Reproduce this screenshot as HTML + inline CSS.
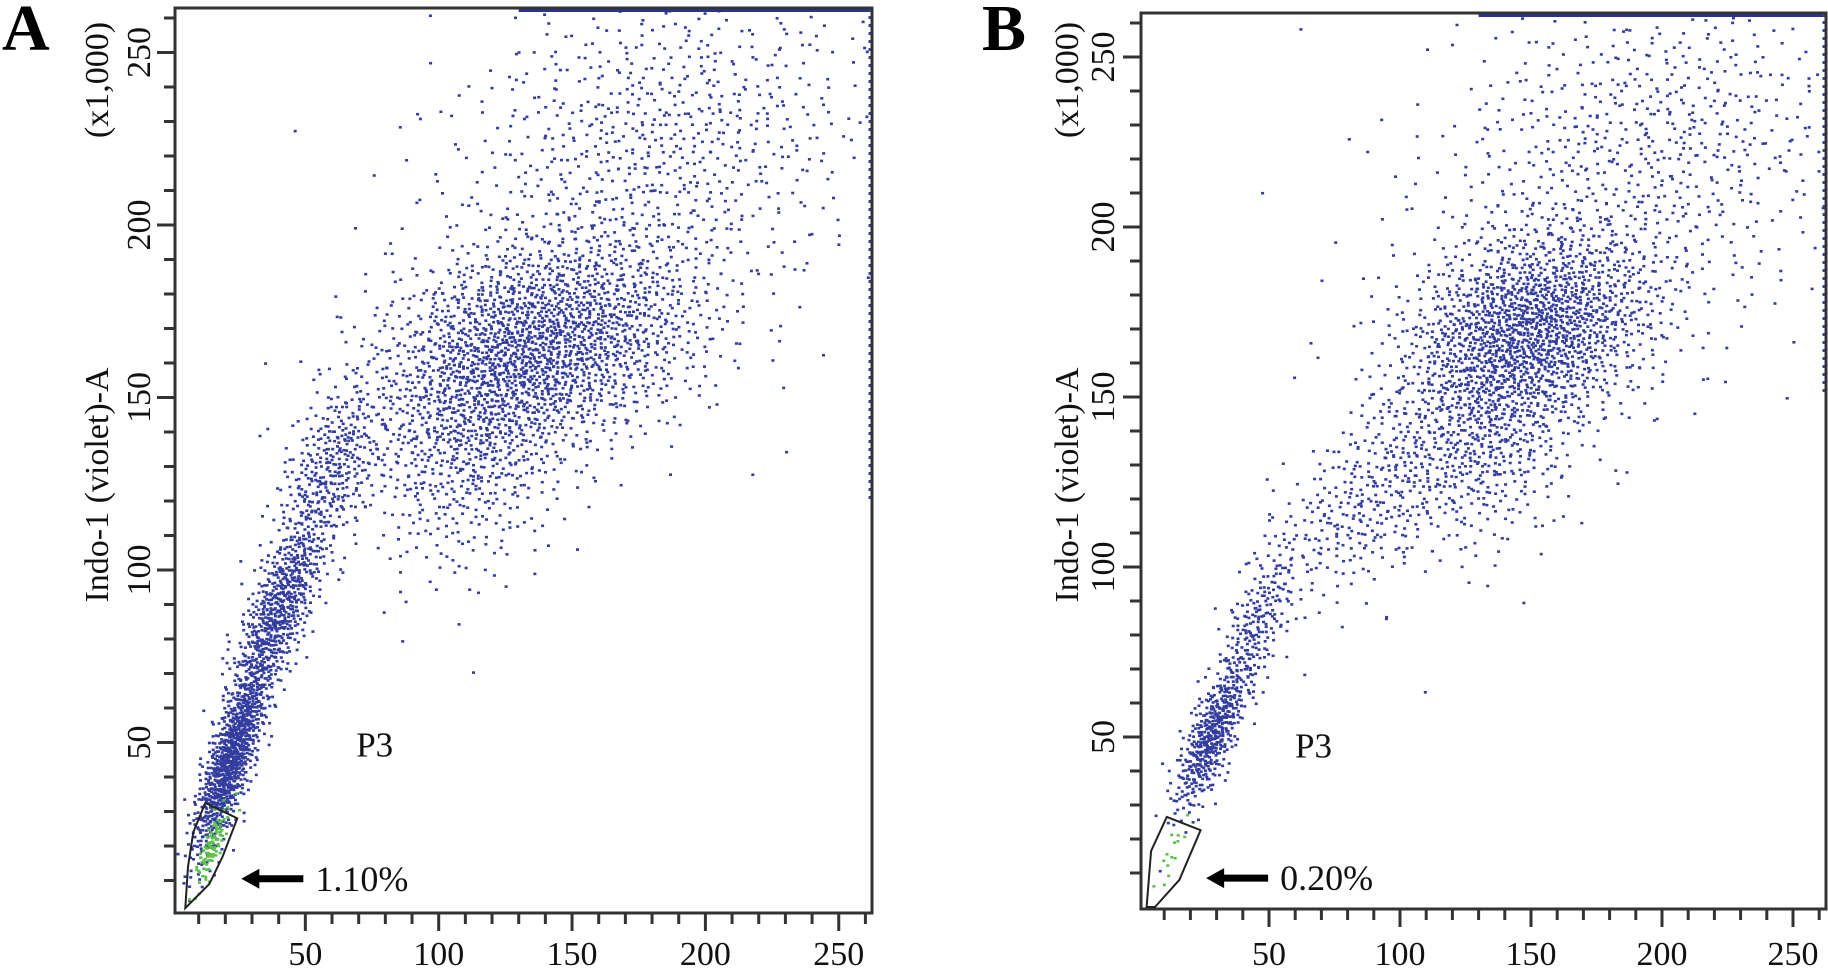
<!DOCTYPE html>
<html><head><meta charset="utf-8">
<style>
html,body{margin:0;padding:0;background:#fff;}
svg{display:block;font-family:"Liberation Serif",serif;}
</style></head>
<body>
<svg id="fig" width="1828" height="975" viewBox="0 0 1828 975"></svg>
<script>
// ---- Data: event clusters (units x1000) ----
// Panel A
const aClusterX   = [22, 40, 60, 140, 112, 175, 195];
const aClusterY   = [45, 88, 130, 166, 140, 215, 235];
const aClusterSdX = [7, 9, 10, 30, 20, 40, 40];
const aClusterSdY = [14, 15, 13, 16, 20, 28, 20];
const aClusterRho = [0.8, 0.75, 0.5, 0.25, 0.2, 0.2, 0];
const aClusterN   = [900, 650, 330, 1700, 700, 600, 230];
const aGateX = [5, 6, 8, 12.5, 24.5, 19, 14, 5];
const aGateY = [2, 14, 24, 32.5, 28, 17, 9, 2];
const aGreenX = [15], aGreenY = [20], aGreenN = [90];
// Panel B
const bClusterX   = [28, 45, 85, 150, 130, 185, 205];
const bClusterY   = [50, 82, 118, 170, 138, 212, 235];
const bClusterSdX = [7, 8, 18, 24, 20, 42, 38];
const bClusterSdY = [11, 13, 15, 15, 17, 28, 18];
const bClusterRho = [0.75, 0.7, 0.5, 0.25, 0.2, 0.2, 0];
const bClusterN   = [450, 220, 280, 1500, 550, 560, 200];
const bGateX = [3.3, 5, 11, 23.9, 15.8, 6.5, 3.3];
const bGateY = [0, 16.5, 26.5, 22.6, 8, 0, 0];
const bGreenX = [13], bGreenY = [16], bGreenN = [14];
// ticks
const majorTicks = [50, 100, 150, 200, 250];
const tickLabels = ["50", "100", "150", "200", "250"];
const minorTicks = [10,20,30,40,60,70,80,90,110,120,130,140,160,170,180,190,210,220,230,240,260];

const NS = "http://www.w3.org/2000/svg";
const svg = document.getElementById('fig');
function mk(tag, attrs, parent){
  const e = document.createElementNS(NS, tag);
  for (const k in attrs) e.setAttribute(k, attrs[k]);
  (parent||svg).appendChild(e);
  return e;
}
function halton(i, b){ let f=1, r=0; while(i>0){ f/=b; r+=f*(i%b); i=Math.floor(i/b);} return r; }

const panels = [
 {id:'a', letter:'A', x0:172, xs:2.667, y0:915, ys:3.45, left:175, right:872, top:8, bottom:913,
  cx:aClusterX, cy:aClusterY, sx:aClusterSdX, sy:aClusterSdY, rho:aClusterRho, n:aClusterN,
  gx:aGateX, gy:aGateY, grx:aGreenX, gry:aGreenY, grn:aGreenN,
  pct:"1.10%", letterX:2, ylabX:150, titleX:108, sat1:130, sat2:120},
 {id:'b', letter:'B', x0:1138, xs:2.62, y0:907, ys:3.4, left:1141, right:1826, top:13, bottom:909,
  cx:bClusterX, cy:bClusterY, sx:bClusterSdX, sy:bClusterSdY, rho:bClusterRho, n:bClusterN,
  gx:bGateX, gy:bGateY, grx:bGreenX, gry:bGreenY, grn:bGreenN,
  pct:"0.20%", letterX:982, ylabX:1114, titleX:1078, sat1:130, sat2:150}
];

let seed = 1;
panels.forEach(p => {
  const X = v => p.x0 + v*p.xs;
  const Y = v => p.y0 - v*p.ys;
  const g = mk('g', {});
  
  

  function scatter(cx, cy, sx, sy, rho, n, color, name){
    const grp = mk('g', {fill: color}, g);
    
    
    for (let c=0; c<cx.length; c++){
      const r2 = Math.sqrt(1 - rho[c]*rho[c]);
      for (let i=0; i<n[c]; i++){
        seed++;
        const u1 = Math.max(1e-6, halton(seed, 2)), u2 = halton(seed, 3);
        const rr = Math.sqrt(-2*Math.log(u1)), th = 2*Math.PI*u2;
        const z1 = rr*Math.cos(th), z2 = rr*Math.sin(th);
        const vx = cx[c] + sx[c]*z1;
        const vy = cy[c] + sy[c]*(rho[c]*z1 + r2*z2);
        const px = X(vx), py = Y(vy);
        if (px < p.left+2 || px > p.right-2 || py < p.top+2 || py > p.bottom-2) continue;
        mk('rect', {x:(px-1.5).toFixed(1), y:(py-1.3).toFixed(1), width:3, height:2.6}, grp);
      }
    }
  }
  scatter(p.cx, p.cy, p.sx, p.sy, p.rho, p.n, '#333d9f', 'events-' + p.id);
  scatter(p.grx, p.gry, [3], [6], [0.8], p.grn, '#5cc04a', 'gated-events-' + p.id);

  const s1 = mk('line', {x1:X(p.sat1), y1:p.top+2, x2:p.right, y2:p.top+2, stroke:'#2a3395', 'stroke-width':4}, g);
  
  
  const s2 = mk('line', {x1:p.right-2, y1:p.top, x2:p.right-2, y2:Y(p.sat2), stroke:'#3a43a4', 'stroke-width':3, 'stroke-dasharray':'3 5'}, g);
  
  

  const fr = mk('rect', {x:p.left, y:p.top, width:p.right-p.left, height:p.bottom-p.top, fill:'none', stroke:'#333', 'stroke-width':3}, g);
  
  

  const pts = p.gx.map((v,i)=>X(v).toFixed(1)+','+Y(p.gy[i]).toFixed(1)).join(' ');
  const gate = mk('polygon', {points:pts, fill:'none', stroke:'#222', 'stroke-width':2}, g);
  
  

  const tg = mk('g', {stroke:'#333', 'stroke-width':3}, g);
  
  
  majorTicks.concat(minorTicks).forEach((t, idx) => {
    const len = idx < majorTicks.length ? 18 : 11;
    if (X(t) <= p.right) mk('line', {x1:X(t), y1:p.bottom, x2:X(t), y2:p.bottom+len}, tg);
    if (Y(t) >= p.top) mk('line', {x1:p.left, y1:Y(t), x2:p.left-len, y2:Y(t)}, tg);
  });
  majorTicks.forEach((t, i) => {
    const xl = mk('text', {x:X(t), y:965, 'font-size':34, 'text-anchor':'middle', fill:'#111'}, g);
    xl.textContent = tickLabels[i];
    
    
    const yl = mk('text', {x:0, y:0, 'font-size':34, 'text-anchor':'middle', fill:'#111',
      transform:`translate(${p.ylabX},${Y(t)}) rotate(-90)`}, g);
    yl.textContent = tickLabels[i];
    
    
  });

  const yt = mk('text', {x:0, y:0, 'font-size':34, 'text-anchor':'middle', fill:'#111',
    transform:`translate(${p.titleX},485) rotate(-90)`}, g);
  yt.textContent = 'Indo-1 (violet)-A';
  
  
  const ys = mk('text', {x:0, y:0, 'font-size':34, 'text-anchor':'middle', fill:'#111',
    transform:`translate(${p.titleX},80) rotate(-90)`}, g);
  ys.textContent = '(x1,000)';
  
  

  const lt = mk('text', {x:p.letterX, y:50, 'font-size':66, 'font-weight':'bold', fill:'#000'}, g);
  lt.textContent = p.letter;
  
  

  const p3 = mk('text', {x:X(p.id==='a'?76:67), y:Y(p.id==='a'?46:44), 'font-size':35, 'text-anchor':'middle', fill:'#111'}, g);
  p3.textContent = 'P3';
  
  

  const ax1 = X(26), ax2 = ax1+62, ay = Y(p.id==='a'?10.5:8.5);
  const ar = mk('g', {}, g);
  
  
  mk('line', {x1:ax1+14, y1:ay, x2:ax2, y2:ay, stroke:'#000', 'stroke-width':7}, ar);
  mk('polygon', {points:`${ax1},${ay} ${ax1+18},${ay-10} ${ax1+18},${ay+10}`, fill:'#000'}, ar);
  const pc = mk('text', {x:ax2+12, y:ay+12, 'font-size':36, fill:'#111'}, g);
  pc.textContent = p.pct;
  
  
});
</script>
</body></html>
